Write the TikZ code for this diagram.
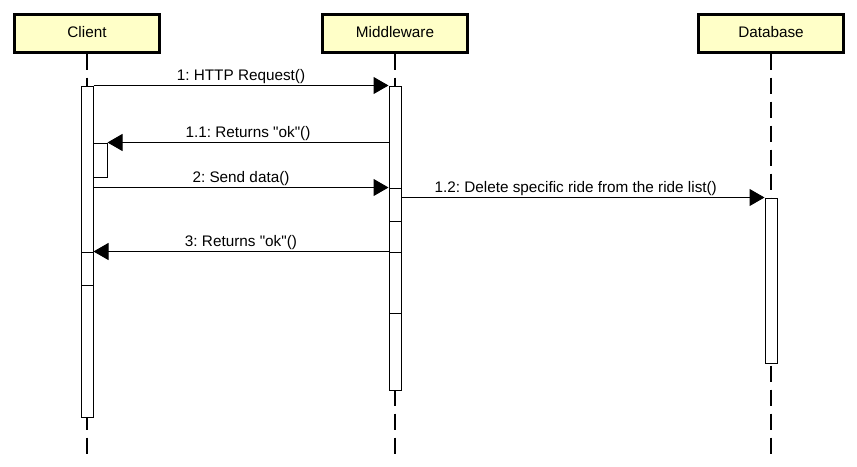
\documentclass[tikz,border=0pt]{standalone}
\usepackage{fontspec}
\setmainfont{Liberation Sans}
\usetikzlibrary{arrows.meta}
\definecolor{headfill}{RGB}{255,255,200}
\frenchspacing
\begin{document}
\begin{tikzpicture}
  [x=1pt,y=-1pt,
   every node/.style={font=\fontsize{15.3}{18}\selectfont},
   head/.style={draw,line width=3pt,fill=headfill,minimum width=145pt,minimum height=38pt,inner sep=0pt},
   bar/.style={draw,line width=1pt,fill=white,minimum width=12pt,inner sep=0pt},
   lifeline/.style={line width=1.1pt,dash pattern=on 16pt off 8pt},
   msg/.style={line width=1pt,-{Triangle[length=15pt,width=17pt]}},
   lbl/.style={above,inner sep=1.5pt}]
  \useasboundingbox (0,0) rectangle (857,466);
  \node[head] (client) at (87,33) {\raisebox{2pt}{Client}};
  \node[head] (mid) at (395,33) {\raisebox{2pt}{Middleware}};
  \node[head] (db) at (771,33) {\raisebox{2pt}{Database}};
  \coordinate (cend) at (87,455);
  \coordinate (mend) at (395,455);
  \coordinate (dend) at (771,455);
  \draw[lifeline] (client.south) -- (cend);
  \draw[lifeline] (mid.south) -- (mend);
  \draw[lifeline] (db.south) -- (dend);

  \node[bar,minimum height=331pt] (cbar) at (87,251.5) {};
  \node[bar,minimum width=14pt,minimum height=34pt] (cself) at (100,160) {};
  \node[bar,minimum height=33pt] (cseg) at (87,268.5) {};
  \node[bar,minimum height=304pt] (mbar) at (395,238) {};
  \node[bar,minimum height=33pt] (mseg1) at (395,204.5) {};
  \node[bar,minimum height=61pt] (mseg2) at (395,282.5) {};
  \node[bar,minimum height=165pt] (dbar) at (771,280.5) {};

 \path[msg]
        (cbar.north east) edge node[lbl] {1: HTTP Request()} (mbar.north west)
        (mbar.west |- cself.north) edge node[lbl] {1.1: Returns \textquotedbl ok\textquotedbl()} (cself.north east)
        (cbar.east |- mseg1.north) edge node[lbl] {2: Send data()} (mseg1.north west)
        (mseg1.east |- dbar.north) edge node[lbl,pos=.48] {1.2: Delete specific ride from the ride list()} (dbar.north west)
        (mseg2.north west) edge node[lbl] {3: Returns \textquotedbl ok\textquotedbl()} (cseg.north east);

\end{tikzpicture}
\end{document}
